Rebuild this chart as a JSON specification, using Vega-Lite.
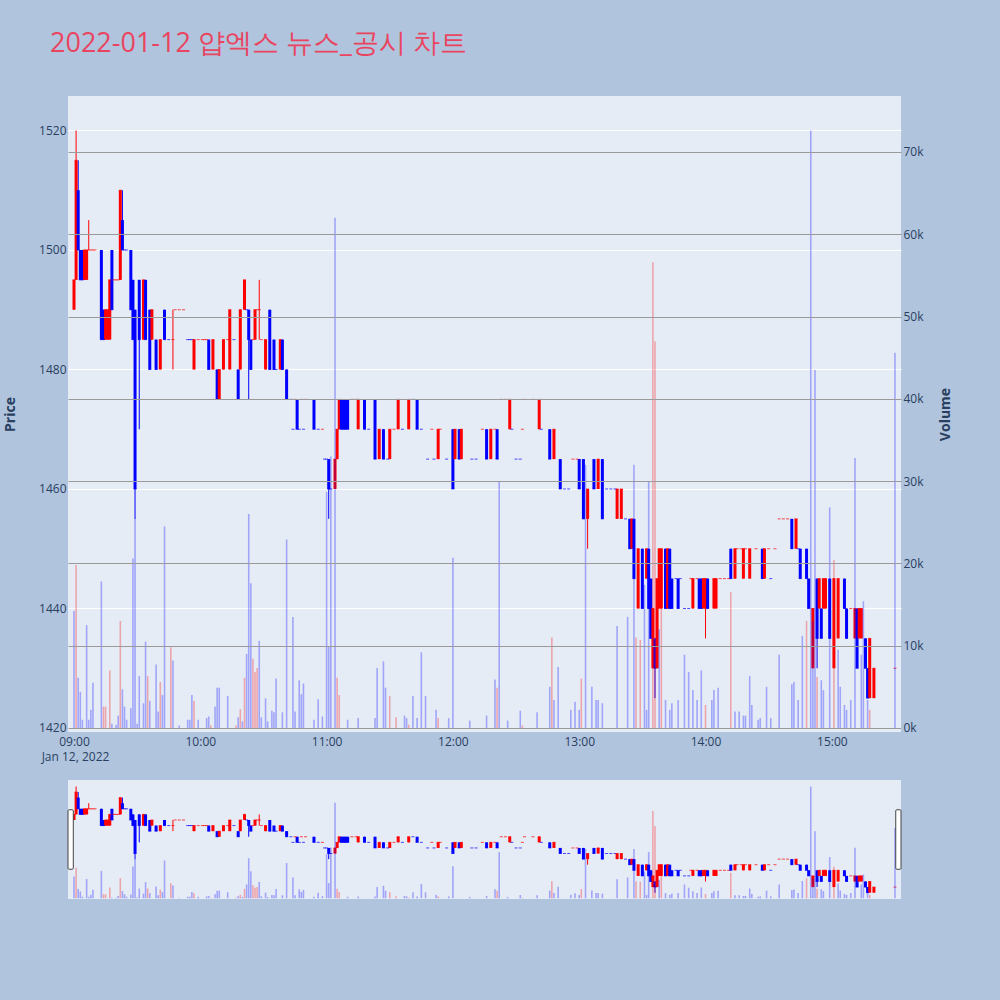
{
  "$schema": "https://vega.github.io/schema/vega-lite/v6.json",
  "background": "#B0C4DE",
  "padding": {"left": 3, "top": 30, "right": 47, "bottom": 102},
  "title": {
    "text": "2022-01-12 얍엑스 뉴스_공시 차트",
    "font": "Open Sans",
    "fontSize": 27,
    "fontWeight": "normal",
    "color": "#E94560",
    "anchor": "start",
    "frame": "group",
    "dx": -18,
    "offset": 38
  },
  "datasets": {
    "candles": [
      {"t":"2022-01-12T09:00","o":1490,"h":1495,"l":1490,"c":1495,"d":"up"},
      {"t":"2022-01-12T09:01","o":1495,"h":1520,"l":1495,"c":1515,"d":"up"},
      {"t":"2022-01-12T09:02","o":1510,"h":1515,"l":1500,"c":1500,"d":"down"},
      {"t":"2022-01-12T09:03","o":1500,"h":1500,"l":1495,"c":1495,"d":"down"},
      {"t":"2022-01-12T09:04","o":1500,"h":1500,"l":1495,"c":1495,"d":"down"},
      {"t":"2022-01-12T09:05","o":1495,"h":1500,"l":1495,"c":1500,"d":"up"},
      {"t":"2022-01-12T09:06","o":1495,"h":1500,"l":1495,"c":1500,"d":"up"},
      {"t":"2022-01-12T09:07","o":1500,"h":1505,"l":1500,"c":1500,"d":"up"},
      {"t":"2022-01-12T09:08","o":1500,"h":1500,"l":1500,"c":1500,"d":"up"},
      {"t":"2022-01-12T09:09","o":1500,"h":1500,"l":1500,"c":1500,"d":"up"},
      {"t":"2022-01-12T09:10","o":1500,"h":1500,"l":1500,"c":1500,"d":"up"},
      {"t":"2022-01-12T09:13","o":1500,"h":1500,"l":1485,"c":1485,"d":"down"},
      {"t":"2022-01-12T09:14","o":1490,"h":1490,"l":1485,"c":1485,"d":"down"},
      {"t":"2022-01-12T09:15","o":1485,"h":1490,"l":1485,"c":1490,"d":"up"},
      {"t":"2022-01-12T09:16","o":1485,"h":1490,"l":1485,"c":1490,"d":"up"},
      {"t":"2022-01-12T09:17","o":1485,"h":1495,"l":1485,"c":1495,"d":"up"},
      {"t":"2022-01-12T09:18","o":1500,"h":1500,"l":1490,"c":1490,"d":"down"},
      {"t":"2022-01-12T09:19","o":1495,"h":1495,"l":1495,"c":1495,"d":"up"},
      {"t":"2022-01-12T09:20","o":1495,"h":1495,"l":1495,"c":1495,"d":"up"},
      {"t":"2022-01-12T09:21","o":1495,"h":1495,"l":1495,"c":1495,"d":"up"},
      {"t":"2022-01-12T09:22","o":1495,"h":1510,"l":1495,"c":1510,"d":"up"},
      {"t":"2022-01-12T09:23","o":1505,"h":1510,"l":1500,"c":1500,"d":"down"},
      {"t":"2022-01-12T09:24","o":1500,"h":1500,"l":1500,"c":1500,"d":"down"},
      {"t":"2022-01-12T09:25","o":1500,"h":1500,"l":1500,"c":1500,"d":"down"},
      {"t":"2022-01-12T09:27","o":1500,"h":1500,"l":1490,"c":1490,"d":"down"},
      {"t":"2022-01-12T09:28","o":1495,"h":1495,"l":1485,"c":1485,"d":"down"},
      {"t":"2022-01-12T09:29","o":1490,"h":1490,"l":1455,"c":1460,"d":"down"},
      {"t":"2022-01-12T09:31","o":1495,"h":1495,"l":1470,"c":1485,"d":"down"},
      {"t":"2022-01-12T09:33","o":1485,"h":1495,"l":1485,"c":1495,"d":"up"},
      {"t":"2022-01-12T09:34","o":1495,"h":1495,"l":1485,"c":1485,"d":"down"},
      {"t":"2022-01-12T09:36","o":1490,"h":1490,"l":1480,"c":1480,"d":"down"},
      {"t":"2022-01-12T09:37","o":1485,"h":1490,"l":1485,"c":1490,"d":"up"},
      {"t":"2022-01-12T09:39","o":1485,"h":1485,"l":1480,"c":1480,"d":"down"},
      {"t":"2022-01-12T09:41","o":1480,"h":1485,"l":1480,"c":1485,"d":"up"},
      {"t":"2022-01-12T09:43","o":1490,"h":1490,"l":1485,"c":1485,"d":"down"},
      {"t":"2022-01-12T09:45","o":1485,"h":1485,"l":1485,"c":1485,"d":"down"},
      {"t":"2022-01-12T09:47","o":1485,"h":1490,"l":1480,"c":1485,"d":"up"},
      {"t":"2022-01-12T09:48","o":1490,"h":1490,"l":1490,"c":1490,"d":"up"},
      {"t":"2022-01-12T09:50","o":1490,"h":1490,"l":1490,"c":1490,"d":"up"},
      {"t":"2022-01-12T09:52","o":1490,"h":1490,"l":1490,"c":1490,"d":"up"},
      {"t":"2022-01-12T09:54","o":1485,"h":1485,"l":1485,"c":1485,"d":"down"},
      {"t":"2022-01-12T09:55","o":1485,"h":1485,"l":1485,"c":1485,"d":"down"},
      {"t":"2022-01-12T09:56","o":1485,"h":1485,"l":1485,"c":1485,"d":"down"},
      {"t":"2022-01-12T09:57","o":1480,"h":1485,"l":1480,"c":1485,"d":"up"},
      {"t":"2022-01-12T09:59","o":1485,"h":1485,"l":1485,"c":1485,"d":"up"},
      {"t":"2022-01-12T10:01","o":1485,"h":1485,"l":1485,"c":1485,"d":"up"},
      {"t":"2022-01-12T10:02","o":1485,"h":1485,"l":1485,"c":1485,"d":"up"},
      {"t":"2022-01-12T10:03","o":1485,"h":1485,"l":1485,"c":1485,"d":"up"},
      {"t":"2022-01-12T10:04","o":1485,"h":1485,"l":1480,"c":1480,"d":"down"},
      {"t":"2022-01-12T10:06","o":1480,"h":1485,"l":1480,"c":1485,"d":"up"},
      {"t":"2022-01-12T10:08","o":1480,"h":1480,"l":1475,"c":1475,"d":"down"},
      {"t":"2022-01-12T10:09","o":1475,"h":1480,"l":1475,"c":1480,"d":"up"},
      {"t":"2022-01-12T10:11","o":1480,"h":1485,"l":1480,"c":1485,"d":"up"},
      {"t":"2022-01-12T10:13","o":1485,"h":1485,"l":1485,"c":1485,"d":"up"},
      {"t":"2022-01-12T10:14","o":1480,"h":1490,"l":1480,"c":1490,"d":"up"},
      {"t":"2022-01-12T10:16","o":1485,"h":1485,"l":1485,"c":1485,"d":"down"},
      {"t":"2022-01-12T10:18","o":1480,"h":1480,"l":1475,"c":1475,"d":"down"},
      {"t":"2022-01-12T10:19","o":1480,"h":1490,"l":1480,"c":1490,"d":"up"},
      {"t":"2022-01-12T10:21","o":1490,"h":1495,"l":1490,"c":1495,"d":"up"},
      {"t":"2022-01-12T10:22","o":1490,"h":1490,"l":1490,"c":1490,"d":"down"},
      {"t":"2022-01-12T10:23","o":1490,"h":1490,"l":1475,"c":1485,"d":"down"},
      {"t":"2022-01-12T10:24","o":1485,"h":1485,"l":1480,"c":1480,"d":"down"},
      {"t":"2022-01-12T10:25","o":1485,"h":1485,"l":1485,"c":1485,"d":"up"},
      {"t":"2022-01-12T10:26","o":1485,"h":1490,"l":1485,"c":1490,"d":"up"},
      {"t":"2022-01-12T10:27","o":1490,"h":1490,"l":1490,"c":1490,"d":"up"},
      {"t":"2022-01-12T10:28","o":1490,"h":1495,"l":1485,"c":1490,"d":"up"},
      {"t":"2022-01-12T10:29","o":1485,"h":1485,"l":1485,"c":1485,"d":"up"},
      {"t":"2022-01-12T10:31","o":1480,"h":1485,"l":1480,"c":1485,"d":"up"},
      {"t":"2022-01-12T10:33","o":1490,"h":1490,"l":1480,"c":1480,"d":"down"},
      {"t":"2022-01-12T10:35","o":1485,"h":1485,"l":1480,"c":1480,"d":"down"},
      {"t":"2022-01-12T10:36","o":1480,"h":1480,"l":1480,"c":1480,"d":"down"},
      {"t":"2022-01-12T10:38","o":1480,"h":1485,"l":1480,"c":1485,"d":"up"},
      {"t":"2022-01-12T10:39","o":1485,"h":1485,"l":1480,"c":1480,"d":"down"},
      {"t":"2022-01-12T10:41","o":1480,"h":1480,"l":1475,"c":1475,"d":"down"},
      {"t":"2022-01-12T10:43","o":1475,"h":1475,"l":1475,"c":1475,"d":"down"},
      {"t":"2022-01-12T10:44","o":1470,"h":1470,"l":1470,"c":1470,"d":"down"},
      {"t":"2022-01-12T10:45","o":1475,"h":1475,"l":1475,"c":1475,"d":"up"},
      {"t":"2022-01-12T10:46","o":1475,"h":1475,"l":1470,"c":1470,"d":"down"},
      {"t":"2022-01-12T10:47","o":1470,"h":1470,"l":1470,"c":1470,"d":"down"},
      {"t":"2022-01-12T10:48","o":1475,"h":1475,"l":1475,"c":1475,"d":"up"},
      {"t":"2022-01-12T10:49","o":1470,"h":1470,"l":1470,"c":1470,"d":"down"},
      {"t":"2022-01-12T10:50","o":1475,"h":1475,"l":1475,"c":1475,"d":"up"},
      {"t":"2022-01-12T10:54","o":1475,"h":1475,"l":1470,"c":1470,"d":"down"},
      {"t":"2022-01-12T10:56","o":1470,"h":1470,"l":1470,"c":1470,"d":"down"},
      {"t":"2022-01-12T10:58","o":1470,"h":1470,"l":1470,"c":1470,"d":"up"},
      {"t":"2022-01-12T10:59","o":1465,"h":1465,"l":1465,"c":1465,"d":"down"},
      {"t":"2022-01-12T11:00","o":1465,"h":1465,"l":1465,"c":1465,"d":"down"},
      {"t":"2022-01-12T11:01","o":1465,"h":1465,"l":1455,"c":1460,"d":"down"},
      {"t":"2022-01-12T11:02","o":1460,"h":1460,"l":1460,"c":1460,"d":"down"},
      {"t":"2022-01-12T11:04","o":1460,"h":1465,"l":1460,"c":1465,"d":"up"},
      {"t":"2022-01-12T11:05","o":1465,"h":1470,"l":1465,"c":1470,"d":"up"},
      {"t":"2022-01-12T11:06","o":1470,"h":1475,"l":1470,"c":1475,"d":"up"},
      {"t":"2022-01-12T11:07","o":1475,"h":1475,"l":1470,"c":1470,"d":"down"},
      {"t":"2022-01-12T11:08","o":1475,"h":1475,"l":1470,"c":1470,"d":"down"},
      {"t":"2022-01-12T11:09","o":1475,"h":1475,"l":1470,"c":1470,"d":"down"},
      {"t":"2022-01-12T11:10","o":1475,"h":1475,"l":1470,"c":1470,"d":"down"},
      {"t":"2022-01-12T11:12","o":1475,"h":1475,"l":1475,"c":1475,"d":"up"},
      {"t":"2022-01-12T11:14","o":1475,"h":1475,"l":1475,"c":1475,"d":"up"},
      {"t":"2022-01-12T11:15","o":1470,"h":1475,"l":1470,"c":1475,"d":"up"},
      {"t":"2022-01-12T11:18","o":1475,"h":1475,"l":1470,"c":1470,"d":"down"},
      {"t":"2022-01-12T11:20","o":1470,"h":1470,"l":1470,"c":1470,"d":"down"},
      {"t":"2022-01-12T11:23","o":1475,"h":1475,"l":1465,"c":1465,"d":"down"},
      {"t":"2022-01-12T11:25","o":1465,"h":1470,"l":1465,"c":1470,"d":"up"},
      {"t":"2022-01-12T11:27","o":1470,"h":1470,"l":1465,"c":1465,"d":"down"},
      {"t":"2022-01-12T11:29","o":1465,"h":1465,"l":1465,"c":1465,"d":"down"},
      {"t":"2022-01-12T11:30","o":1465,"h":1470,"l":1465,"c":1470,"d":"up"},
      {"t":"2022-01-12T11:32","o":1470,"h":1470,"l":1470,"c":1470,"d":"up"},
      {"t":"2022-01-12T11:34","o":1470,"h":1475,"l":1470,"c":1475,"d":"up"},
      {"t":"2022-01-12T11:36","o":1470,"h":1470,"l":1470,"c":1470,"d":"down"},
      {"t":"2022-01-12T11:39","o":1470,"h":1475,"l":1470,"c":1475,"d":"up"},
      {"t":"2022-01-12T11:41","o":1475,"h":1475,"l":1475,"c":1475,"d":"down"},
      {"t":"2022-01-12T11:43","o":1475,"h":1475,"l":1470,"c":1470,"d":"down"},
      {"t":"2022-01-12T11:45","o":1470,"h":1470,"l":1470,"c":1470,"d":"down"},
      {"t":"2022-01-12T11:48","o":1465,"h":1465,"l":1465,"c":1465,"d":"down"},
      {"t":"2022-01-12T11:50","o":1470,"h":1470,"l":1470,"c":1470,"d":"up"},
      {"t":"2022-01-12T11:51","o":1465,"h":1465,"l":1465,"c":1465,"d":"down"},
      {"t":"2022-01-12T11:53","o":1465,"h":1470,"l":1465,"c":1470,"d":"up"},
      {"t":"2022-01-12T11:54","o":1470,"h":1470,"l":1470,"c":1470,"d":"up"},
      {"t":"2022-01-12T11:57","o":1465,"h":1465,"l":1465,"c":1465,"d":"down"},
      {"t":"2022-01-12T12:00","o":1470,"h":1470,"l":1460,"c":1460,"d":"down"},
      {"t":"2022-01-12T12:01","o":1465,"h":1470,"l":1465,"c":1470,"d":"up"},
      {"t":"2022-01-12T12:03","o":1470,"h":1470,"l":1465,"c":1465,"d":"down"},
      {"t":"2022-01-12T12:04","o":1465,"h":1470,"l":1465,"c":1470,"d":"up"},
      {"t":"2022-01-12T12:09","o":1465,"h":1465,"l":1465,"c":1465,"d":"down"},
      {"t":"2022-01-12T12:11","o":1465,"h":1465,"l":1465,"c":1465,"d":"down"},
      {"t":"2022-01-12T12:14","o":1470,"h":1470,"l":1470,"c":1470,"d":"up"},
      {"t":"2022-01-12T12:16","o":1470,"h":1470,"l":1465,"c":1465,"d":"down"},
      {"t":"2022-01-12T12:18","o":1465,"h":1470,"l":1465,"c":1470,"d":"up"},
      {"t":"2022-01-12T12:20","o":1470,"h":1470,"l":1470,"c":1470,"d":"up"},
      {"t":"2022-01-12T12:21","o":1470,"h":1470,"l":1465,"c":1465,"d":"down"},
      {"t":"2022-01-12T12:23","o":1475,"h":1475,"l":1475,"c":1475,"d":"up"},
      {"t":"2022-01-12T12:25","o":1475,"h":1475,"l":1475,"c":1475,"d":"up"},
      {"t":"2022-01-12T12:27","o":1470,"h":1475,"l":1470,"c":1475,"d":"up"},
      {"t":"2022-01-12T12:28","o":1470,"h":1470,"l":1470,"c":1470,"d":"down"},
      {"t":"2022-01-12T12:30","o":1465,"h":1465,"l":1465,"c":1465,"d":"down"},
      {"t":"2022-01-12T12:32","o":1465,"h":1465,"l":1465,"c":1465,"d":"down"},
      {"t":"2022-01-12T12:33","o":1470,"h":1470,"l":1470,"c":1470,"d":"up"},
      {"t":"2022-01-12T12:34","o":1475,"h":1475,"l":1475,"c":1475,"d":"up"},
      {"t":"2022-01-12T12:38","o":1475,"h":1475,"l":1475,"c":1475,"d":"up"},
      {"t":"2022-01-12T12:41","o":1470,"h":1475,"l":1470,"c":1475,"d":"up"},
      {"t":"2022-01-12T12:42","o":1470,"h":1470,"l":1470,"c":1470,"d":"down"},
      {"t":"2022-01-12T12:46","o":1470,"h":1470,"l":1465,"c":1465,"d":"down"},
      {"t":"2022-01-12T12:48","o":1465,"h":1470,"l":1465,"c":1470,"d":"up"},
      {"t":"2022-01-12T12:51","o":1465,"h":1465,"l":1460,"c":1460,"d":"down"},
      {"t":"2022-01-12T12:53","o":1460,"h":1460,"l":1460,"c":1460,"d":"down"},
      {"t":"2022-01-12T12:55","o":1460,"h":1460,"l":1460,"c":1460,"d":"down"},
      {"t":"2022-01-12T12:57","o":1465,"h":1465,"l":1465,"c":1465,"d":"up"},
      {"t":"2022-01-12T12:59","o":1465,"h":1465,"l":1465,"c":1465,"d":"up"},
      {"t":"2022-01-12T13:00","o":1465,"h":1465,"l":1460,"c":1460,"d":"down"},
      {"t":"2022-01-12T13:02","o":1465,"h":1465,"l":1455,"c":1455,"d":"down"},
      {"t":"2022-01-12T13:04","o":1455,"h":1460,"l":1450,"c":1460,"d":"up"},
      {"t":"2022-01-12T13:07","o":1465,"h":1465,"l":1460,"c":1460,"d":"down"},
      {"t":"2022-01-12T13:09","o":1460,"h":1465,"l":1460,"c":1465,"d":"up"},
      {"t":"2022-01-12T13:11","o":1465,"h":1465,"l":1455,"c":1455,"d":"down"},
      {"t":"2022-01-12T13:13","o":1460,"h":1460,"l":1460,"c":1460,"d":"down"},
      {"t":"2022-01-12T13:15","o":1460,"h":1460,"l":1460,"c":1460,"d":"down"},
      {"t":"2022-01-12T13:17","o":1460,"h":1460,"l":1460,"c":1460,"d":"down"},
      {"t":"2022-01-12T13:18","o":1455,"h":1460,"l":1455,"c":1460,"d":"up"},
      {"t":"2022-01-12T13:20","o":1455,"h":1460,"l":1455,"c":1460,"d":"up"},
      {"t":"2022-01-12T13:22","o":1455,"h":1455,"l":1455,"c":1455,"d":"down"},
      {"t":"2022-01-12T13:24","o":1455,"h":1455,"l":1450,"c":1450,"d":"down"},
      {"t":"2022-01-12T13:25","o":1450,"h":1455,"l":1450,"c":1455,"d":"up"},
      {"t":"2022-01-12T13:26","o":1455,"h":1455,"l":1445,"c":1445,"d":"down"},
      {"t":"2022-01-12T13:28","o":1440,"h":1450,"l":1440,"c":1450,"d":"up"},
      {"t":"2022-01-12T13:30","o":1450,"h":1450,"l":1440,"c":1440,"d":"down"},
      {"t":"2022-01-12T13:32","o":1445,"h":1450,"l":1445,"c":1450,"d":"up"},
      {"t":"2022-01-12T13:33","o":1450,"h":1450,"l":1440,"c":1440,"d":"down"},
      {"t":"2022-01-12T13:34","o":1445,"h":1445,"l":1435,"c":1435,"d":"down"},
      {"t":"2022-01-12T13:35","o":1430,"h":1440,"l":1430,"c":1440,"d":"up"},
      {"t":"2022-01-12T13:36","o":1435,"h":1435,"l":1425,"c":1430,"d":"down"},
      {"t":"2022-01-12T13:37","o":1430,"h":1445,"l":1430,"c":1445,"d":"up"},
      {"t":"2022-01-12T13:38","o":1440,"h":1450,"l":1440,"c":1450,"d":"up"},
      {"t":"2022-01-12T13:39","o":1440,"h":1450,"l":1440,"c":1450,"d":"up"},
      {"t":"2022-01-12T13:41","o":1450,"h":1450,"l":1440,"c":1440,"d":"down"},
      {"t":"2022-01-12T13:42","o":1440,"h":1450,"l":1440,"c":1450,"d":"up"},
      {"t":"2022-01-12T13:43","o":1450,"h":1450,"l":1440,"c":1440,"d":"down"},
      {"t":"2022-01-12T13:44","o":1445,"h":1445,"l":1440,"c":1440,"d":"down"},
      {"t":"2022-01-12T13:46","o":1445,"h":1445,"l":1445,"c":1445,"d":"down"},
      {"t":"2022-01-12T13:47","o":1445,"h":1445,"l":1440,"c":1440,"d":"down"},
      {"t":"2022-01-12T13:48","o":1445,"h":1445,"l":1445,"c":1445,"d":"down"},
      {"t":"2022-01-12T13:50","o":1440,"h":1440,"l":1440,"c":1440,"d":"down"},
      {"t":"2022-01-12T13:52","o":1440,"h":1440,"l":1440,"c":1440,"d":"down"},
      {"t":"2022-01-12T13:53","o":1445,"h":1445,"l":1445,"c":1445,"d":"up"},
      {"t":"2022-01-12T13:54","o":1440,"h":1445,"l":1440,"c":1445,"d":"up"},
      {"t":"2022-01-12T13:56","o":1445,"h":1445,"l":1445,"c":1445,"d":"up"},
      {"t":"2022-01-12T13:57","o":1445,"h":1445,"l":1440,"c":1440,"d":"down"},
      {"t":"2022-01-12T13:58","o":1445,"h":1445,"l":1440,"c":1440,"d":"down"},
      {"t":"2022-01-12T13:59","o":1440,"h":1445,"l":1440,"c":1445,"d":"up"},
      {"t":"2022-01-12T14:00","o":1440,"h":1445,"l":1435,"c":1445,"d":"up"},
      {"t":"2022-01-12T14:01","o":1445,"h":1445,"l":1440,"c":1440,"d":"down"},
      {"t":"2022-01-12T14:04","o":1440,"h":1445,"l":1440,"c":1445,"d":"up"},
      {"t":"2022-01-12T14:05","o":1440,"h":1445,"l":1440,"c":1445,"d":"up"},
      {"t":"2022-01-12T14:07","o":1445,"h":1445,"l":1445,"c":1445,"d":"up"},
      {"t":"2022-01-12T14:09","o":1445,"h":1445,"l":1445,"c":1445,"d":"up"},
      {"t":"2022-01-12T14:11","o":1445,"h":1445,"l":1445,"c":1445,"d":"up"},
      {"t":"2022-01-12T14:12","o":1450,"h":1450,"l":1445,"c":1445,"d":"down"},
      {"t":"2022-01-12T14:14","o":1445,"h":1450,"l":1445,"c":1450,"d":"up"},
      {"t":"2022-01-12T14:15","o":1450,"h":1450,"l":1450,"c":1450,"d":"up"},
      {"t":"2022-01-12T14:17","o":1450,"h":1450,"l":1450,"c":1450,"d":"up"},
      {"t":"2022-01-12T14:18","o":1445,"h":1450,"l":1445,"c":1450,"d":"up"},
      {"t":"2022-01-12T14:19","o":1450,"h":1450,"l":1450,"c":1450,"d":"up"},
      {"t":"2022-01-12T14:21","o":1445,"h":1450,"l":1445,"c":1450,"d":"up"},
      {"t":"2022-01-12T14:24","o":1450,"h":1450,"l":1450,"c":1450,"d":"up"},
      {"t":"2022-01-12T14:27","o":1450,"h":1450,"l":1445,"c":1445,"d":"down"},
      {"t":"2022-01-12T14:28","o":1445,"h":1450,"l":1445,"c":1450,"d":"up"},
      {"t":"2022-01-12T14:30","o":1450,"h":1450,"l":1450,"c":1450,"d":"up"},
      {"t":"2022-01-12T14:31","o":1445,"h":1445,"l":1445,"c":1445,"d":"down"},
      {"t":"2022-01-12T14:33","o":1450,"h":1450,"l":1450,"c":1450,"d":"up"},
      {"t":"2022-01-12T14:35","o":1455,"h":1455,"l":1455,"c":1455,"d":"up"},
      {"t":"2022-01-12T14:37","o":1455,"h":1455,"l":1455,"c":1455,"d":"up"},
      {"t":"2022-01-12T14:39","o":1455,"h":1455,"l":1455,"c":1455,"d":"up"},
      {"t":"2022-01-12T14:41","o":1455,"h":1455,"l":1450,"c":1450,"d":"down"},
      {"t":"2022-01-12T14:43","o":1450,"h":1455,"l":1450,"c":1455,"d":"up"},
      {"t":"2022-01-12T14:44","o":1450,"h":1450,"l":1450,"c":1450,"d":"down"},
      {"t":"2022-01-12T14:45","o":1450,"h":1450,"l":1445,"c":1445,"d":"down"},
      {"t":"2022-01-12T14:48","o":1450,"h":1450,"l":1445,"c":1445,"d":"down"},
      {"t":"2022-01-12T14:49","o":1445,"h":1445,"l":1440,"c":1440,"d":"down"},
      {"t":"2022-01-12T14:51","o":1430,"h":1440,"l":1430,"c":1440,"d":"up"},
      {"t":"2022-01-12T14:53","o":1445,"h":1445,"l":1430,"c":1435,"d":"down"},
      {"t":"2022-01-12T14:54","o":1440,"h":1445,"l":1440,"c":1445,"d":"up"},
      {"t":"2022-01-12T14:55","o":1440,"h":1440,"l":1435,"c":1435,"d":"down"},
      {"t":"2022-01-12T14:56","o":1440,"h":1445,"l":1440,"c":1445,"d":"up"},
      {"t":"2022-01-12T14:57","o":1440,"h":1445,"l":1440,"c":1445,"d":"up"},
      {"t":"2022-01-12T14:59","o":1445,"h":1445,"l":1435,"c":1435,"d":"down"},
      {"t":"2022-01-12T15:01","o":1430,"h":1445,"l":1430,"c":1445,"d":"up"},
      {"t":"2022-01-12T15:03","o":1435,"h":1445,"l":1435,"c":1445,"d":"up"},
      {"t":"2022-01-12T15:06","o":1445,"h":1445,"l":1440,"c":1440,"d":"down"},
      {"t":"2022-01-12T15:07","o":1440,"h":1440,"l":1435,"c":1435,"d":"down"},
      {"t":"2022-01-12T15:09","o":1440,"h":1440,"l":1440,"c":1440,"d":"up"},
      {"t":"2022-01-12T15:11","o":1435,"h":1440,"l":1435,"c":1440,"d":"up"},
      {"t":"2022-01-12T15:12","o":1440,"h":1440,"l":1430,"c":1430,"d":"down"},
      {"t":"2022-01-12T15:13","o":1435,"h":1440,"l":1435,"c":1440,"d":"up"},
      {"t":"2022-01-12T15:14","o":1435,"h":1440,"l":1435,"c":1440,"d":"up"},
      {"t":"2022-01-12T15:16","o":1435,"h":1435,"l":1430,"c":1430,"d":"down"},
      {"t":"2022-01-12T15:17","o":1430,"h":1430,"l":1425,"c":1425,"d":"down"},
      {"t":"2022-01-12T15:18","o":1425,"h":1435,"l":1425,"c":1435,"d":"up"},
      {"t":"2022-01-12T15:20","o":1425,"h":1430,"l":1425,"c":1430,"d":"up"},
      {"t":"2022-01-12T15:30","o":1430,"h":1430,"l":1430,"c":1430,"d":"up"}
    ],
    "volume": [
      {"t":"2022-01-12T09:00","v":14200,"d":"down"},
      {"t":"2022-01-12T09:01","v":19800,"d":"up"},
      {"t":"2022-01-12T09:02","v":6100,"d":"down"},
      {"t":"2022-01-12T09:03","v":4400,"d":"down"},
      {"t":"2022-01-12T09:04","v":1000,"d":"down"},
      {"t":"2022-01-12T09:06","v":12500,"d":"down"},
      {"t":"2022-01-12T09:07","v":1000,"d":"down"},
      {"t":"2022-01-12T09:08","v":2200,"d":"down"},
      {"t":"2022-01-12T09:09","v":5500,"d":"down"},
      {"t":"2022-01-12T09:13","v":17800,"d":"down"},
      {"t":"2022-01-12T09:14","v":2600,"d":"up"},
      {"t":"2022-01-12T09:15","v":2600,"d":"up"},
      {"t":"2022-01-12T09:17","v":7000,"d":"up"},
      {"t":"2022-01-12T09:18","v":500,"d":"down"},
      {"t":"2022-01-12T09:20","v":400,"d":"down"},
      {"t":"2022-01-12T09:21","v":1500,"d":"down"},
      {"t":"2022-01-12T09:22","v":13000,"d":"up"},
      {"t":"2022-01-12T09:23","v":4700,"d":"down"},
      {"t":"2022-01-12T09:24","v":2600,"d":"down"},
      {"t":"2022-01-12T09:25","v":1000,"d":"down"},
      {"t":"2022-01-12T09:27","v":2400,"d":"down"},
      {"t":"2022-01-12T09:28","v":20600,"d":"down"},
      {"t":"2022-01-12T09:29","v":25500,"d":"down"},
      {"t":"2022-01-12T09:30","v":500,"d":"down"},
      {"t":"2022-01-12T09:31","v":6300,"d":"down"},
      {"t":"2022-01-12T09:33","v":3000,"d":"down"},
      {"t":"2022-01-12T09:34","v":10500,"d":"down"},
      {"t":"2022-01-12T09:35","v":6300,"d":"up"},
      {"t":"2022-01-12T09:36","v":3300,"d":"down"},
      {"t":"2022-01-12T09:39","v":7700,"d":"down"},
      {"t":"2022-01-12T09:40","v":2000,"d":"down"},
      {"t":"2022-01-12T09:41","v":5600,"d":"up"},
      {"t":"2022-01-12T09:42","v":4000,"d":"down"},
      {"t":"2022-01-12T09:43","v":24500,"d":"down"},
      {"t":"2022-01-12T09:46","v":9800,"d":"up"},
      {"t":"2022-01-12T09:47","v":8200,"d":"down"},
      {"t":"2022-01-12T09:50","v":300,"d":"down"},
      {"t":"2022-01-12T09:54","v":1000,"d":"down"},
      {"t":"2022-01-12T09:55","v":1000,"d":"down"},
      {"t":"2022-01-12T09:56","v":4000,"d":"down"},
      {"t":"2022-01-12T09:57","v":3300,"d":"up"},
      {"t":"2022-01-12T09:59","v":1000,"d":"down"},
      {"t":"2022-01-12T10:03","v":1200,"d":"down"},
      {"t":"2022-01-12T10:04","v":1400,"d":"down"},
      {"t":"2022-01-12T10:05","v":300,"d":"up"},
      {"t":"2022-01-12T10:07","v":2600,"d":"down"},
      {"t":"2022-01-12T10:08","v":4900,"d":"down"},
      {"t":"2022-01-12T10:09","v":4900,"d":"down"},
      {"t":"2022-01-12T10:13","v":3900,"d":"down"},
      {"t":"2022-01-12T10:17","v":300,"d":"up"},
      {"t":"2022-01-12T10:18","v":1300,"d":"down"},
      {"t":"2022-01-12T10:19","v":2300,"d":"up"},
      {"t":"2022-01-12T10:20","v":800,"d":"down"},
      {"t":"2022-01-12T10:21","v":6100,"d":"up"},
      {"t":"2022-01-12T10:22","v":9000,"d":"down"},
      {"t":"2022-01-12T10:23","v":26000,"d":"down"},
      {"t":"2022-01-12T10:24","v":17600,"d":"down"},
      {"t":"2022-01-12T10:25","v":8400,"d":"up"},
      {"t":"2022-01-12T10:26","v":6800,"d":"up"},
      {"t":"2022-01-12T10:27","v":7300,"d":"up"},
      {"t":"2022-01-12T10:28","v":10600,"d":"down"},
      {"t":"2022-01-12T10:29","v":1300,"d":"down"},
      {"t":"2022-01-12T10:31","v":3600,"d":"down"},
      {"t":"2022-01-12T10:32","v":800,"d":"down"},
      {"t":"2022-01-12T10:34","v":2100,"d":"down"},
      {"t":"2022-01-12T10:35","v":1900,"d":"down"},
      {"t":"2022-01-12T10:36","v":6000,"d":"down"},
      {"t":"2022-01-12T10:39","v":1900,"d":"down"},
      {"t":"2022-01-12T10:41","v":22900,"d":"down"},
      {"t":"2022-01-12T10:44","v":13500,"d":"down"},
      {"t":"2022-01-12T10:45","v":2000,"d":"down"},
      {"t":"2022-01-12T10:47","v":5800,"d":"down"},
      {"t":"2022-01-12T10:48","v":4100,"d":"down"},
      {"t":"2022-01-12T10:49","v":5400,"d":"down"},
      {"t":"2022-01-12T10:54","v":1000,"d":"down"},
      {"t":"2022-01-12T10:56","v":3500,"d":"down"},
      {"t":"2022-01-12T10:58","v":1400,"d":"down"},
      {"t":"2022-01-12T11:00","v":28700,"d":"down"},
      {"t":"2022-01-12T11:01","v":9900,"d":"down"},
      {"t":"2022-01-12T11:02","v":33000,"d":"down"},
      {"t":"2022-01-12T11:04","v":62000,"d":"down"},
      {"t":"2022-01-12T11:05","v":6100,"d":"up"},
      {"t":"2022-01-12T11:06","v":4000,"d":"up"},
      {"t":"2022-01-12T11:10","v":1000,"d":"down"},
      {"t":"2022-01-12T11:15","v":1200,"d":"down"},
      {"t":"2022-01-12T11:23","v":1200,"d":"down"},
      {"t":"2022-01-12T11:24","v":7300,"d":"down"},
      {"t":"2022-01-12T11:27","v":8100,"d":"down"},
      {"t":"2022-01-12T11:28","v":4900,"d":"down"},
      {"t":"2022-01-12T11:30","v":3900,"d":"up"},
      {"t":"2022-01-12T11:33","v":1300,"d":"up"},
      {"t":"2022-01-12T11:37","v":1500,"d":"down"},
      {"t":"2022-01-12T11:38","v":1200,"d":"down"},
      {"t":"2022-01-12T11:39","v":400,"d":"up"},
      {"t":"2022-01-12T11:41","v":3900,"d":"down"},
      {"t":"2022-01-12T11:43","v":1200,"d":"down"},
      {"t":"2022-01-12T11:45","v":9200,"d":"down"},
      {"t":"2022-01-12T11:47","v":3900,"d":"down"},
      {"t":"2022-01-12T11:52","v":2200,"d":"down"},
      {"t":"2022-01-12T11:53","v":1200,"d":"up"},
      {"t":"2022-01-12T11:58","v":1200,"d":"down"},
      {"t":"2022-01-12T12:00","v":20700,"d":"down"},
      {"t":"2022-01-12T12:08","v":900,"d":"down"},
      {"t":"2022-01-12T12:16","v":1500,"d":"down"},
      {"t":"2022-01-12T12:20","v":5900,"d":"down"},
      {"t":"2022-01-12T12:21","v":4900,"d":"up"},
      {"t":"2022-01-12T12:22","v":30000,"d":"down"},
      {"t":"2022-01-12T12:26","v":900,"d":"down"},
      {"t":"2022-01-12T12:32","v":2100,"d":"down"},
      {"t":"2022-01-12T12:33","v":300,"d":"up"},
      {"t":"2022-01-12T12:40","v":1900,"d":"down"},
      {"t":"2022-01-12T12:46","v":5000,"d":"down"},
      {"t":"2022-01-12T12:47","v":11000,"d":"up"},
      {"t":"2022-01-12T12:48","v":3400,"d":"down"},
      {"t":"2022-01-12T12:50","v":7400,"d":"down"},
      {"t":"2022-01-12T12:56","v":2200,"d":"down"},
      {"t":"2022-01-12T12:58","v":3200,"d":"down"},
      {"t":"2022-01-12T13:00","v":2200,"d":"down"},
      {"t":"2022-01-12T13:01","v":6000,"d":"up"},
      {"t":"2022-01-12T13:03","v":32000,"d":"down"},
      {"t":"2022-01-12T13:06","v":5000,"d":"down"},
      {"t":"2022-01-12T13:08","v":3400,"d":"down"},
      {"t":"2022-01-12T13:09","v":3400,"d":"down"},
      {"t":"2022-01-12T13:11","v":3000,"d":"down"},
      {"t":"2022-01-12T13:18","v":12400,"d":"down"},
      {"t":"2022-01-12T13:23","v":13500,"d":"down"},
      {"t":"2022-01-12T13:26","v":32000,"d":"down"},
      {"t":"2022-01-12T13:27","v":11000,"d":"up"},
      {"t":"2022-01-12T13:29","v":10700,"d":"up"},
      {"t":"2022-01-12T13:31","v":17400,"d":"down"},
      {"t":"2022-01-12T13:32","v":2200,"d":"down"},
      {"t":"2022-01-12T13:33","v":30000,"d":"down"},
      {"t":"2022-01-12T13:35","v":56600,"d":"up"},
      {"t":"2022-01-12T13:36","v":47000,"d":"up"},
      {"t":"2022-01-12T13:38","v":12000,"d":"down"},
      {"t":"2022-01-12T13:39","v":19800,"d":"up"},
      {"t":"2022-01-12T13:41","v":3400,"d":"down"},
      {"t":"2022-01-12T13:43","v":2200,"d":"down"},
      {"t":"2022-01-12T13:44","v":3000,"d":"down"},
      {"t":"2022-01-12T13:47","v":3400,"d":"down"},
      {"t":"2022-01-12T13:50","v":8900,"d":"down"},
      {"t":"2022-01-12T13:52","v":6800,"d":"down"},
      {"t":"2022-01-12T13:54","v":4600,"d":"down"},
      {"t":"2022-01-12T13:56","v":3400,"d":"down"},
      {"t":"2022-01-12T13:58","v":7000,"d":"down"},
      {"t":"2022-01-12T14:00","v":2800,"d":"up"},
      {"t":"2022-01-12T14:03","v":3400,"d":"down"},
      {"t":"2022-01-12T14:04","v":4600,"d":"down"},
      {"t":"2022-01-12T14:06","v":4900,"d":"down"},
      {"t":"2022-01-12T14:12","v":16500,"d":"up"},
      {"t":"2022-01-12T14:14","v":2000,"d":"down"},
      {"t":"2022-01-12T14:16","v":2000,"d":"down"},
      {"t":"2022-01-12T14:18","v":1500,"d":"down"},
      {"t":"2022-01-12T14:19","v":1500,"d":"down"},
      {"t":"2022-01-12T14:21","v":6300,"d":"down"},
      {"t":"2022-01-12T14:22","v":2800,"d":"down"},
      {"t":"2022-01-12T14:25","v":1000,"d":"down"},
      {"t":"2022-01-12T14:26","v":1200,"d":"down"},
      {"t":"2022-01-12T14:29","v":5000,"d":"down"},
      {"t":"2022-01-12T14:31","v":1200,"d":"down"},
      {"t":"2022-01-12T14:35","v":8900,"d":"down"},
      {"t":"2022-01-12T14:41","v":5300,"d":"down"},
      {"t":"2022-01-12T14:42","v":5600,"d":"down"},
      {"t":"2022-01-12T14:44","v":3400,"d":"down"},
      {"t":"2022-01-12T14:46","v":11200,"d":"down"},
      {"t":"2022-01-12T14:48","v":13000,"d":"up"},
      {"t":"2022-01-12T14:50","v":72600,"d":"down"},
      {"t":"2022-01-12T14:51","v":13000,"d":"down"},
      {"t":"2022-01-12T14:52","v":43500,"d":"down"},
      {"t":"2022-01-12T14:53","v":6200,"d":"up"},
      {"t":"2022-01-12T14:55","v":5800,"d":"down"},
      {"t":"2022-01-12T14:56","v":4600,"d":"down"},
      {"t":"2022-01-12T14:59","v":26800,"d":"down"},
      {"t":"2022-01-12T15:01","v":20400,"d":"up"},
      {"t":"2022-01-12T15:03","v":9500,"d":"down"},
      {"t":"2022-01-12T15:04","v":5000,"d":"down"},
      {"t":"2022-01-12T15:06","v":2800,"d":"down"},
      {"t":"2022-01-12T15:07","v":2200,"d":"down"},
      {"t":"2022-01-12T15:09","v":3400,"d":"down"},
      {"t":"2022-01-12T15:11","v":32800,"d":"down"},
      {"t":"2022-01-12T15:14","v":8900,"d":"down"},
      {"t":"2022-01-12T15:15","v":15400,"d":"down"},
      {"t":"2022-01-12T15:17","v":3400,"d":"down"},
      {"t":"2022-01-12T15:18","v":2200,"d":"up"},
      {"t":"2022-01-12T15:30","v":45600,"d":"down"}
    ],
    "grabbers": [
      {"t1":"2022-01-12T08:57:09","t2":"2022-01-12T08:59:40","a":0.25,"b":0.75},
      {"t1":"2022-01-12T15:30:22","t2":"2022-01-12T15:32:52","a":0.25,"b":0.75}
    ]
  },
  "vconcat": [
    {
      "width": 833,
      "height": 636,
      "view": {"fill": "#E5ECF6", "stroke": null},
      "encoding": {
        "x": {
          "field": "t",
          "type": "temporal",
          "scale": {"nice": false, "padding": 0, "domain": [
            {"year": 2022, "month": 1, "date": 12, "hours": 8, "minutes": 57, "seconds": 9},
            {"year": 2022, "month": 1, "date": 12, "hours": 15, "minutes": 32, "seconds": 52}
          ]},
          "axis": {
            "title": "Jan 12, 2022",
            "titleFont": "Open Sans",
            "titleFontSize": 12,
            "titleFontWeight": "normal",
            "titleColor": "#2a3f5f",
            "titleAlign": "center",
            "titleBaseline": "top",
            "titleX": 7,
            "titleY": 19,
            "format": "%H:%M",
            "values": [
              {"year": 2022, "month": 1, "date": 12, "hours": 9},
              {"year": 2022, "month": 1, "date": 12, "hours": 10},
              {"year": 2022, "month": 1, "date": 12, "hours": 11},
              {"year": 2022, "month": 1, "date": 12, "hours": 12},
              {"year": 2022, "month": 1, "date": 12, "hours": 13},
              {"year": 2022, "month": 1, "date": 12, "hours": 14},
              {"year": 2022, "month": 1, "date": 12, "hours": 15}
            ],
            "grid": false,
            "domain": false,
            "ticks": false,
            "labelFont": "Open Sans",
            "labelFontSize": 12,
            "labelColor": "#2a3f5f",
            "labelPadding": 4,
            "labelFlush": false
          }
        }
      },
      "layer": [
        {
          "data": {"name": "candles"},
          "layer": [
            {
              "mark": {"type": "rule", "strokeWidth": 1},
              "encoding": {
                "y": {
                  "field": "l",
                  "type": "quantitative",
                  "scale": {"domain": [1419.33, 1525.77], "nice": false, "zero": false},
                  "axis": {
                    "orient": "left",
                    "title": "Price",
                    "format": "d",
                    "values": [1420, 1440, 1460, 1480, 1500, 1520],
                    "grid": true,
                    "gridColor": "#FFFFFF",
                    "gridWidth": 1,
                    "domain": false,
                    "ticks": false,
                    "labelFont": "Open Sans",
                    "labelFontSize": 12,
                    "labelColor": "#2a3f5f",
                    "labelPadding": 2,
                    "titleFont": "Open Sans",
                    "titleFontSize": 14,
                    "titleFontWeight": "bold",
                    "titleColor": "#2a3f5f",
                    "titlePadding": 21
                  }
                },
                "y2": {"field": "h"},
                "color": {"field": "d", "type": "nominal", "scale": {"domain": ["up", "down"], "range": ["#FF0000", "#0000FF"]}, "legend": null}
              }
            },
            {
              "mark": {"type": "bar", "width": 3},
              "encoding": {
                "y": {"field": "o", "type": "quantitative"},
                "y2": {"field": "c"},
                "color": {"field": "d", "type": "nominal", "legend": null}
              }
            },
            {
              "mark": {"type": "tick", "orient": "horizontal", "size": 3, "thickness": 1},
              "encoding": {
                "y": {"field": "c", "type": "quantitative"},
                "color": {"field": "d", "type": "nominal", "legend": null}
              }
            }
          ]
        },
        {
          "data": {"name": "volume"},
          "mark": {"type": "bar", "width": 1.6, "opacity": 0.3},
          "encoding": {
            "y": {
              "field": "v",
              "type": "quantitative",
              "scale": {"domain": [-490, 76800], "nice": false, "zero": false},
              "axis": {
                "orient": "right",
                "title": "Volume",
                "values": [0, 10000, 20000, 30000, 40000, 50000, 60000, 70000],
                "format": "~s",
                "grid": true,
                "gridColor": "#9A9A9A",
                "gridWidth": 1,
                "zindex": 1,
                "domain": false,
                "ticks": false,
                "labelFont": "Open Sans",
                "labelFontSize": 12,
                "labelColor": "#2a3f5f",
                "labelPadding": 2,
                "titleFont": "Open Sans",
                "titleFontSize": 14,
                "titleFontWeight": "bold",
                "titleColor": "#2a3f5f",
                "titleAngle": 270,
                "titlePadding": 29
              }
            },
            "y2": {"datum": 0},
            "color": {"field": "d", "type": "nominal", "scale": {"domain": ["up", "down"], "range": ["#FF0000", "#0000FF"]}, "legend": null}
          }
        }
      ],
      "resolve": {"scale": {"y": "independent"}}
    },
    {
      "width": 833,
      "height": 119,
      "view": {"fill": "#E5ECF6", "stroke": null},
      "encoding": {
        "x": {
          "field": "t",
          "type": "temporal",
          "scale": {"nice": false, "padding": 0, "domain": [
            {"year": 2022, "month": 1, "date": 12, "hours": 8, "minutes": 57, "seconds": 9},
            {"year": 2022, "month": 1, "date": 12, "hours": 15, "minutes": 32, "seconds": 52}
          ]},
          "axis": null
        }
      },
      "layer": [
        {
          "data": {"name": "candles"},
          "layer": [
            {
              "mark": {"type": "rule", "strokeWidth": 1},
              "encoding": {
                "y": {"field": "l", "type": "quantitative", "scale": {"domain": [1419.33, 1525.77], "nice": false, "zero": false}, "axis": null},
                "y2": {"field": "h"},
                "color": {"field": "d", "type": "nominal", "scale": {"domain": ["up", "down"], "range": ["#FF0000", "#0000FF"]}, "legend": null}
              }
            },
            {
              "mark": {"type": "bar", "width": 3},
              "encoding": {
                "y": {"field": "o", "type": "quantitative"},
                "y2": {"field": "c"},
                "color": {"field": "d", "type": "nominal", "legend": null}
              }
            },
            {
              "mark": {"type": "tick", "orient": "horizontal", "size": 3, "thickness": 1},
              "encoding": {
                "y": {"field": "c", "type": "quantitative"},
                "color": {"field": "d", "type": "nominal", "legend": null}
              }
            }
          ]
        },
        {
          "data": {"name": "volume"},
          "mark": {"type": "bar", "width": 1.6, "opacity": 0.3},
          "encoding": {
            "y": {"field": "v", "type": "quantitative", "scale": {"domain": [-490, 76800], "nice": false, "zero": false}, "axis": null},
            "y2": {"datum": 0},
            "color": {"field": "d", "type": "nominal", "scale": {"domain": ["up", "down"], "range": ["#FF0000", "#0000FF"]}, "legend": null}
          }
        },
        {
          "data": {"name": "grabbers"},
          "mark": {"type": "rect", "fill": "#FFFFFF", "stroke": "#444444", "strokeWidth": 1, "cornerRadius": 1},
          "encoding": {
            "x": {"field": "t1", "type": "temporal"},
            "x2": {"field": "t2"},
            "y": {"field": "a", "type": "quantitative", "scale": {"domain": [0, 1]}, "axis": null},
            "y2": {"field": "b"}
          }
        }
      ],
      "resolve": {"scale": {"y": "independent"}}
    }
  ],
  "spacing": 18,
  "config": {
    "view": {"stroke": null},
    "concat": {"spacing": 18}
  }
}
